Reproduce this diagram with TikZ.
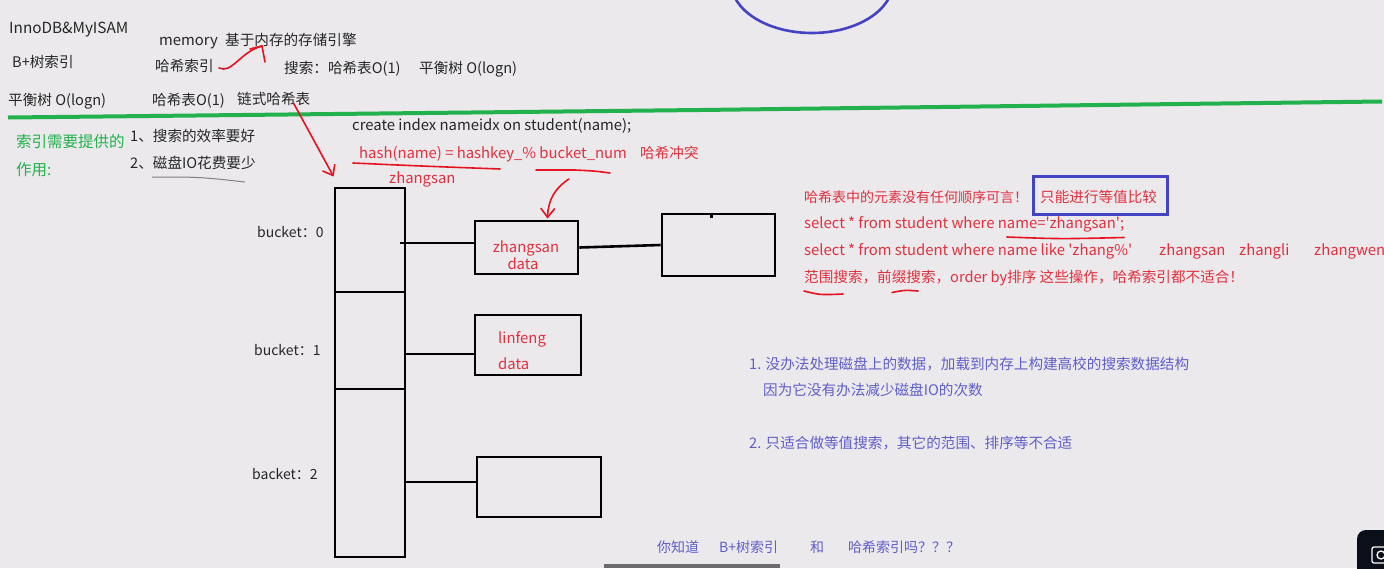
\documentclass[tikz,border=0pt]{standalone}
\usepackage{fontspec}
\setmainfont{Noto Sans CJK SC}[Ligatures=TeXOff]
\usetikzlibrary{arrows.meta,calc}
\definecolor{bg}{HTML}{EBE9EC}
\definecolor{ink}{HTML}{262626}
\definecolor{inkred}{HTML}{E0313F}
\definecolor{penred}{HTML}{E5121F}
\definecolor{pgreen}{HTML}{22B14C}
\definecolor{pblue}{HTML}{4343C3}
\definecolor{tblue}{HTML}{5F5FC8}
\definecolor{darkbar}{HTML}{6B6B70}
\definecolor{icon}{HTML}{0B0F1A}
\tikzset{
  tx/.style={inner sep=0pt, anchor=base west, font=\fontsize{14.6}{17}\selectfont, text=ink},
  lt/.style={tx, font=\fontsize{14.85}{17}\selectfont},
  rt/.style={tx, text=inkred},
  rlt/.style={lt, text=inkred},
  gt/.style={inner sep=0pt, anchor=base west, font=\fontsize{15.5}{18}\selectfont, text=pgreen},
  bt/.style={tx, text=tblue},
  cellbox/.style={draw=black, line width=2.8pt, rectangle, anchor=center, inner sep=0pt},
  wire/.style={draw=black, line width=2.6pt},
  redpen/.style={draw=penred, line width=1.6pt, line cap=round},
  barb/.style={-{Straight Barb[length=9pt,width=14pt,line width=1.6pt]}}
}
\begin{document}
\begin{tikzpicture}[x=1pt,y=-1pt]
\useasboundingbox (0,0) rectangle (1384,568);
\clip (0,0) rectangle (1384,568);
\fill[bg] (0,0) rectangle (1384,568);

% blue ellipse at top
\draw[pblue, line width=2.6pt] (812,-18) ellipse [x radius=81, y radius=51];

% top-left notes
\node[lt, font=\fontsize{15.3}{17}\selectfont] (innodb) at (9,33) {InnoDB\&MyISAM};
\node[lt] (mem) at (159,45) {memory};
\node[tx] (memcn) at (225,45) {基于内存的存储引擎};
\node[tx] (bplus) at (12,67) {B+树索引};
\node[tx] (hashidx) at (155,71) {哈希索引};
\node[tx] (search) at (284,73) {搜索：哈希表O(1)};
\node[tx] (bal1) at (419,73) {平衡树 O(logn)};
\node[tx] (bal2) at (8,105) {平衡树 O(logn)};
\node[tx] (hasho) at (152,105) {哈希表O(1)};
\node[tx] (chain) at (237,104) {链式哈希表};

% red hook arrow from 哈希索引 to 内存
\coordinate (h1) at (219,68);
\coordinate (h2) at (262,46);
\draw[redpen] (h1) .. controls (232,74) and (240,52) .. (h2);
\draw[redpen] (h2) -- (265,62);
\draw[redpen] (h2) -- (250,49);

% green divider
\draw[pgreen, line width=4pt] (8,117.5) -- (150,116) -- (700,110) -- (1180,104) -- (1382,101.5);

% green label and list
\node[gt] (g1) at (16,147) {索引需要提供的};
\node[gt] (g2) at (16,175) {作用:};
\node[tx] (p1) at (130,141) {1、搜索的效率要好};
\node[tx] (p2) at (130,168) {2、磁盘IO花费要少};
\draw[gray, line width=1pt] (152,177) .. controls (200,177) .. (245,182);

% create index / hash formula
\node[lt] (create) at (352,130) {create index nameidx on student(name);};
\node[rlt] (hash) at (359,158) {hash(name) = hashkey\_\% bucket\_num};
\node[rt] (coll) at (640,158) {哈希冲突};
\node[rlt] (zs) at (389,183) {zhangsan};
\draw[redpen] (353,163) .. controls (420,166) .. (500,169);
\draw[redpen] (536,170) -- (575,170) .. controls (595,171) .. (610,173);

% bucket column
\node[cellbox, minimum width=70pt, minimum height=104pt] (b0) at (370,240) {};
\node[cellbox, minimum width=70pt, minimum height=97pt] (b1) at (370,340.5) {};
\node[cellbox, minimum width=70pt, minimum height=168pt] (b2) at (370,473) {};
\node[tx, font=\fontsize{14}{16}\selectfont] (lb0) at (257,237) {bucket：0};
\node[tx, font=\fontsize{14}{16}\selectfont] (lb1) at (254,355) {bucket：1};
\node[tx, font=\fontsize{14}{16}\selectfont] (lb2) at (252,479) {backet：2};

% entries
\node[cellbox, minimum width=103pt, minimum height=53pt] (z0) at (526.5,247.5) {};
\node[rlt, anchor=base] (z0a) at (526,252) {zhangsan};
\node[rlt, anchor=base] (z0b) at (523,269) {data};
\node[cellbox, minimum width=113pt, minimum height=62pt] (n0) at (718.5,245) {};
\draw[black, line width=2.6pt] (n0.north) ++(-7,0) -- ++(0,5);
\node[cellbox, minimum width=106pt, minimum height=60pt] (l1) at (528,345) {};
\node[rlt] (l1a) at (498,343) {linfeng};
\node[rlt] (l1b) at (498,369) {data};
\node[cellbox, minimum width=124pt, minimum height=60pt] (e2) at (539,487) {};

% chain links
\draw[wire] ([xshift=-6pt,yshift=-3pt]b0.east) -- ([yshift=-3pt]b0.east -| z0.west);
\draw[wire] (z0.east) -- (n0.west);
\draw[wire] ([yshift=-13.5pt]b1.east) -- ([yshift=-13.5pt]b1.east -| l1.west);
\draw[wire] ([yshift=-9pt]b2.east) -- ([yshift=-9pt]b2.east -| e2.west);

% red arrows
\draw[redpen, barb] ([xshift=20pt,yshift=2pt]chain.south) -- ([yshift=10pt]b0.north west);
\coordinate (a2s) at (569,179);
\draw[redpen, barb] (a2s) .. controls (555,188) and (548,200) .. ([xshift=21pt,yshift=1pt]z0.north);

% right red notes
\node[rt, font=\fontsize{14}{16}\selectfont] (r1) at (804,202) {哈希表中的元素没有任何顺序可言！};
\node[draw=pblue, line width=2.5pt, anchor=center, minimum width=134pt, minimum height=38pt, inner sep=0pt] (eqbox) at (1100.5,195.5) {};
\node[rt] (r1b) at (1040,202) {只能进行等值比较};
\node[rlt] (r2) at (804,228) {select * from student where name='zhangsan';};
\draw[redpen] (1007,237) .. controls (1060,239) .. (1124,237.5);
\node[rlt] (r3) at (804,255) {select * from student where name like 'zhang\%'};
\node[rlt] (r3a) at (1159,255) {zhangsan};
\node[rlt] (r3b) at (1239,255) {zhangli};
\node[rlt] (r3c) at (1314,255) {zhangwen};
\node[rt] (r4) at (804,282) {范围搜索，前缀搜索，order by排序 这些操作，哈希索引都不适合！};
\draw[redpen] (804,291) .. controls (820,295) .. (843,294);
\draw[redpen] (892,292.5) .. controls (905,290) .. (918,291);

% blue notes
\node[bt] (q1) at (749,369) {1. 没办法处理磁盘上的数据，加载到内存上构建高校的搜索数据结构};
\node[bt] (q1b) at (763,395) {因为它没有办法减少磁盘IO的次数};
\node[bt] (q2) at (749,448) {2. 只适合做等值搜索，其它的范围、排序等不合适};

% bottom question
\node[bt, font=\fontsize{14}{16}\selectfont] (k1) at (657,552) {你知道};
\node[bt, font=\fontsize{14}{16}\selectfont] (k2) at (719,552) {B+树索引};
\node[bt, font=\fontsize{14}{16}\selectfont] (k3) at (810,552) {和};
\node[bt, font=\fontsize{14}{16}\selectfont] (k4) at (848,552) {哈希索引吗？？？};

% screen artefacts
\fill[darkbar] (604,564) rectangle (780,568);
\fill[icon, rounded corners=9pt] (1357,530) rectangle (1400,585);
\draw[white, line width=1.3pt, rounded corners=2pt] (1372,547) rectangle (1392,563);
\draw[white, line width=1.3pt] (1381,555) circle [radius=4];
\end{tikzpicture}
\end{document}
